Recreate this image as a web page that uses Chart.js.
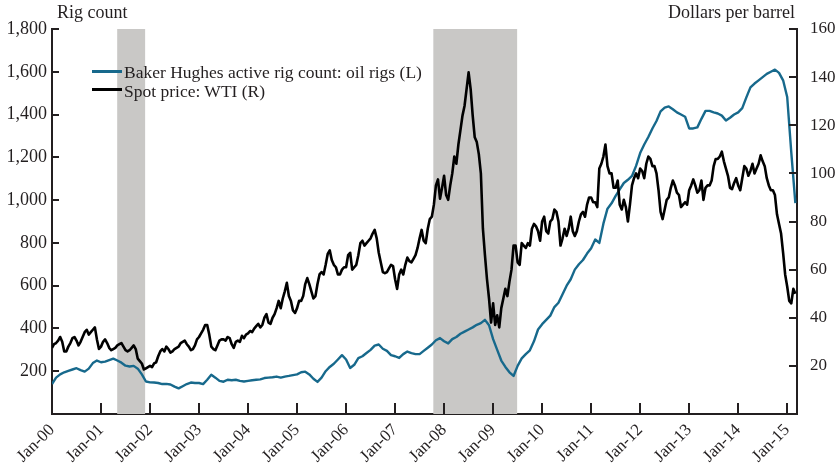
<!DOCTYPE html>
<html>
<head>
<meta charset="utf-8">
<script src="https://cdn.jsdelivr.net/npm/chart.js@4.4.1/dist/chart.umd.min.js"></script>
<style>
  body { margin: 0; background: #fff; }
  #wrap { position: relative; width: 838px; height: 471px; font-family: "Liberation Serif", serif; color: #231f20; }
  #c { position: absolute; left: 0; top: 0; }
  .txt { position: absolute; font-size: 18px; line-height: 20px; white-space: nowrap; }
  .leg { font-size: 17.5px; }
  .sw { position: absolute; left: 92px; width: 30px; }
</style>
</head>
<body>
<div id="wrap">
  <canvas id="c" width="838" height="471"></canvas>
  <div class="txt" style="left:57px; top:2px;">Rig count</div>
  <div class="txt" style="right:43px; top:2px;">Dollars per barrel</div>
  <div class="sw" style="top:70px; height:2.5px; background:#17698c;"></div>
  <div class="txt leg" style="left:124px; top:62px;">Baker Hughes active rig count: oil rigs (L)</div>
  <div class="sw" style="top:88px; height:3px; background:#000;"></div>
  <div class="txt leg" style="left:124px; top:81px;">Spot price: WTI (R)</div>
</div>
<script>
// x values are years since Jan 2000
const tickYears = [0,1,2,3,4,5,6,7,8,9,10,11,12,13,14,15];
const tickLabels = ['Jan-00','Jan-01','Jan-02','Jan-03','Jan-04','Jan-05','Jan-06','Jan-07','Jan-08','Jan-09','Jan-10','Jan-11','Jan-12','Jan-13','Jan-14','Jan-15'];
const recessions = [[1.33, 1.90], [7.78, 9.49]];

// Baker Hughes oil rigs, monthly from Jan 2000
const rigStep = 1/12;
const rigs = [
  140,170,185,195,202,208,214,205,198,212,238,250,
  242,245,252,259,250,240,226,222,225,212,185,152,
  148,147,145,140,141,138,128,120,130,140,147,145,
  145,140,160,183,170,155,151,160,158,160,155,152,
  155,158,160,162,168,170,172,175,170,175,178,182,
  185,195,198,185,165,150,170,200,220,235,255,275,
  255,215,230,261,270,285,300,320,325,305,295,275,
  270,262,280,292,285,280,280,295,310,325,345,355,
  340,330,350,360,375,385,395,405,417,425,440,415,
  350,300,250,220,195,178,225,260,280,298,340,395,
  420,440,460,500,520,560,600,630,675,700,720,750,
  775,816,800,890,960,985,1020,1050,1080,1095,1113,1160,
  1220,1260,1295,1335,1370,1415,1432,1438,1425,1410,1400,1390,
  1335,1335,1340,1380,1417,1417,1410,1405,1395,1372,1385,1400,
  1410,1430,1480,1527,1545,1560,1575,1590,1600,1610,1595,1560,
  1482,1223,986
];

// WTI spot price, semi-monthly from Jan 2000
const wtiStep = 1/24;
const wti = [
  27.5,29,29.5,30.5,32,30,26,26,28,29.5,31.5,32,30.5,28.5,30,32,34,35,33,34,35,36,31,27,
  28,30,31,29.5,27.5,26.5,27,27.5,28.5,29,29.5,28,26.5,26,26.5,27.5,28.5,27,23,22,21,18.5,19,19.5,
  20,19.5,21,21.5,24,26,27,26,28,27,25.5,26,27,27.5,28,29.5,30,30.5,29,28,26.5,27,28.5,31,
  32,33.5,35,37,37,33,28,27,26.5,28.5,30.5,31,31,30.5,32,31.5,29,27.5,30,30.5,30,32.5,31.5,33,
  33.5,34.5,34,35.5,36.5,37.5,36,37,40,41.5,38,37.5,40,41.5,44,47,44,48,51,54.5,49,47,43,42,
  44,47,47,49,54,56.5,54,51,48,49,54,58,59,58,62,66.5,68,64,62,61,58,58,60,61,
  61,66,67,60,61,62,66,71,72,70,71,72,73,75,76.5,73,67,63,59,58.5,59,60.5,62,61.5,
  56,52,58,60,58,62,65,63.5,63,64.5,66,69,73,76.5,72,71,77,81,82,87,95,97.5,89.5,94,
  99,91,89,95,100,107,104,112,118,124,128,135,142,135,124,115,113,108,100,77,66,56,48,38,
  46,37,41,36,44,48,52,49,55,60,70,70,63,62,71,70,69,71,70,77,79,78,76,72,
  80,82,76,75,80,81,85,84,80,70,73,77,74,77,82,76,74,76,80,83,84,82,87,90,
  90,88,88,86,102,104,107,112,103,100,100,94,94,97,87,85,89,86,80,87,95,98,100,98,
  102,101,98,104,107,106,103,103,100,93,84,81,85,89,90,94,97,95,92,91,86,87,88,87,
  93,95,97.5,95,92,93,97,89,94,95,95,97,103,106,106,107,109,105,102,99,94,93.5,96,98,
  95,93,98,103,102,99,101,104,100,102,104,107.5,105,103,98,95,93,93,91,83,79,75,67,58,
  53,47,46,52,50
];

const INK = '#231f20';
const BLUE = '#17698c';

const rigPts = rigs.map((v, i) => ({ x: i * rigStep, y: v }));
const wtiPts = wti.map((v, i) => ({ x: i * wtiStep, y: v }));

const shading = {
  id: 'shading',
  beforeDatasetsDraw(chart) {
    const { ctx, chartArea } = chart;
    const xs = chart.scales.x;
    ctx.save();
    ctx.fillStyle = '#c9c8c6';
    recessions.forEach(([a, b]) => {
      const x1 = xs.getPixelForValue(a), x2 = xs.getPixelForValue(b);
      ctx.fillRect(x1, chartArea.top, x2 - x1, chartArea.bottom - chartArea.top);
    });
    ctx.restore();
  }
};

const innerTicks = {
  id: 'innerTicks',
  afterDraw(chart) {
    const { ctx, chartArea } = chart;
    ctx.save();
    ctx.strokeStyle = INK;
    ctx.lineWidth = 2;
    ctx.beginPath();
    chart.scales.x.ticks.forEach(t => {
      if (t.value === 0) return;
      const px = Math.round(chart.scales.x.getPixelForValue(t.value));
      ctx.moveTo(px, chartArea.bottom);
      ctx.lineTo(px, chartArea.bottom - 11);
    });
    chart.scales.y.ticks.forEach(t => {
      if (t.value === 0) return;
      const py = Math.round(chart.scales.y.getPixelForValue(t.value));
      ctx.moveTo(chartArea.left, py);
      ctx.lineTo(chartArea.left + 7, py);
    });
    chart.scales.y1.ticks.forEach(t => {
      if (t.value === 0) return;
      const py = Math.round(chart.scales.y1.getPixelForValue(t.value));
      ctx.moveTo(chartArea.right, py);
      ctx.lineTo(chartArea.right - 8, py);
    });
    ctx.stroke();
    ctx.restore();
  }
};

Chart.defaults.font.family = "'Liberation Serif', serif";
Chart.defaults.font.size = 17;
Chart.defaults.color = INK;

new Chart(document.getElementById('c'), {
  type: 'line',
  data: {
    datasets: [
      {
        label: 'Spot price: WTI (R)',
        data: wtiPts,
        yAxisID: 'y1',
        borderColor: '#000',
        borderWidth: 2.6,
        pointRadius: 0,
        tension: 0,
        borderJoinStyle: 'round',
        order: 0
      },
      {
        label: 'Baker Hughes active rig count: oil rigs (L)',
        data: rigPts,
        yAxisID: 'y',
        borderColor: BLUE,
        borderWidth: 2.4,
        pointRadius: 0,
        tension: 0,
        borderJoinStyle: 'round',
        order: 1
      }
    ]
  },
  options: {
    responsive: false,
    animation: false,
    layout: { padding: { top: 29, left: 0, right: 0, bottom: 0 } },
    plugins: { legend: { display: false }, tooltip: { enabled: false } },
    scales: {
      x: {
        type: 'linear',
        min: 0,
        max: 15.2,
        grid: { display: false, drawTicks: false },
        border: { display: true, color: INK, width: 2 },
        afterBuildTicks(scale) { scale.ticks = tickYears.map(v => ({ value: v })); },
        afterFit(scale) { scale.height = 57; },
        ticks: {
          autoSkip: false,
          minRotation: 45,
          maxRotation: 45,
          padding: 6,
          callback(v) { const i = tickYears.indexOf(v); return i >= 0 ? tickLabels[i] : ''; }
        }
      },
      y: {
        position: 'left',
        min: 0,
        max: 1800,
        grid: { display: false, drawTicks: false },
        border: { display: true, color: INK, width: 2 },
        afterFit(scale) { scale.width = 52; },
        ticks: {
          stepSize: 200,
          padding: 5,
          font: { size: 18 },
          callback(v) { return v === 0 ? null : v.toLocaleString('en-US'); }
        }
      },
      y1: {
        position: 'right',
        min: 0,
        max: 160,
        grid: { display: false, drawTicks: false },
        border: { display: true, color: INK, width: 2 },
        afterFit(scale) { scale.width = 41; },
        ticks: {
          stepSize: 20,
          padding: 13,
          callback(v) { return v === 0 ? null : String(v); }
        }
      }
    }
  },
  plugins: [shading, innerTicks]
});
</script>
</body>
</html>
